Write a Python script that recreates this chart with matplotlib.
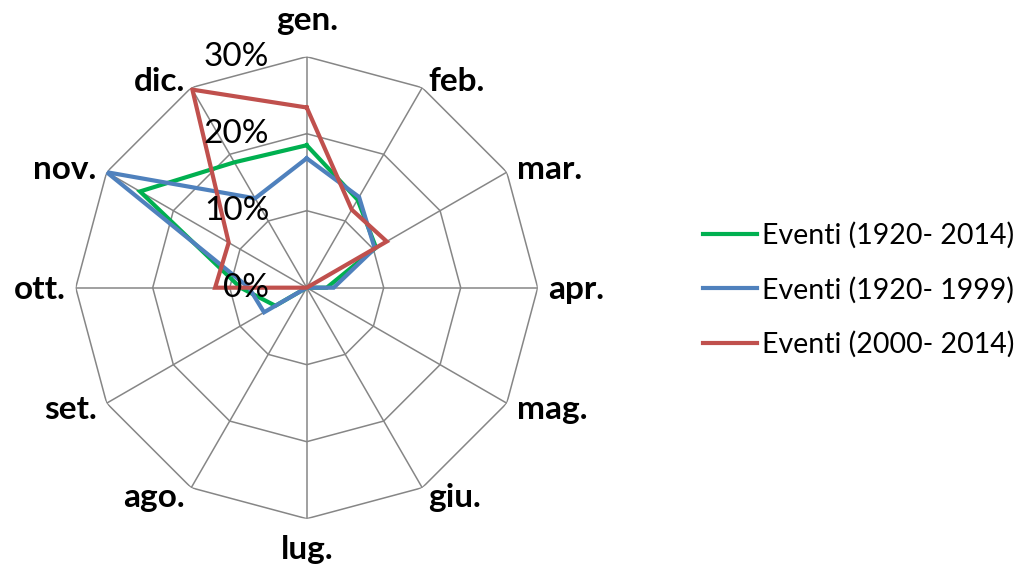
import numpy as np
import matplotlib
matplotlib.use("Agg")
import matplotlib.pyplot as plt

plt.rcParams['font.family'] = ['Lato', 'DejaVu Sans']

# months (clockwise from top)
months = ["gen.", "feb.", "mar.", "apr.", "mag.", "giu.",
          "lug.", "ago.", "set.", "ott.", "nov.", "dic."]

# share of events per month (%)
ev_1920_2014 = [18.5, 13.2, 10.4, 2.6, 0, 0, 0, 0, 4.7, 8.6, 25.0, 18.8]
ev_1920_1999 = [16.8, 13.6, 10.2, 3.5, 0, 0, 0, 0, 6.4, 7.5, 30.0, 13.4]
ev_2000_2014 = [23.4, 11.7, 12.0, 0, 0, 0, 0, 0, 0, 11.9, 11.7, 29.7]

series = [ev_1920_2014, ev_1920_1999, ev_2000_2014]
labels = ["Eventi (1920- 2014)", "Eventi (1920- 1999)", "Eventi (2000- 2014)"]
colors = ["#00B050", "#4F81BD", "#C0504D"]

rings = [10, 20, 30]
ring_labels = ["0%", "10%", "20%", "30%"]

n = len(months)
theta = np.arange(n) * 2 * np.pi / n
theta_c = np.append(theta, theta[0])

fig = plt.figure(figsize=(10.19, 5.72), dpi=100)
ax = fig.add_axes([0.0743, 0.0932, 0.4534, 0.8077], projection="polar")
ax.set_theta_zero_location("N")
ax.set_theta_direction(-1)
ax.set_ylim(0, 30)
ax.grid(False)
ax.spines["polar"].set_visible(False)
ax.set_xticks([])
ax.set_yticks([])

# polygon grid
grid_col = "#868686"
for r in rings:
    ax.plot(theta_c, [r] * (n + 1), color=grid_col, lw=1.1, zorder=1)
for t in theta:
    ax.plot([t, t], [0, 30], color=grid_col, lw=1.1, zorder=1)

for vals, lab, col in zip(series, labels, colors):
    v = np.append(vals, vals[0])
    ax.plot(theta_c, v, color=col, lw=3.0, label=lab, zorder=3,
            solid_joinstyle="miter")

# month labels (offsets in pixels, baseline-anchored)
px = 72 / 100
for t, m in zip(theta, months):
    s, c = np.sin(t), np.cos(t)
    if abs(s) > 0.1:
        ha = "left" if s > 0 else "right"
        dx = (6 if abs(s) < 0.6 else 10) * np.sign(s)
        dy = 11 - 9 * c
    else:
        ha = "center"
        dx = 0
        dy = -27 if c > 0 else 40
    ax.annotate(m, xy=(t, 30), xytext=(dx * px, -dy * px), textcoords="offset points",
                ha=ha, va="baseline", fontsize=24, fontweight="bold",
                annotation_clip=False)

# radial labels
for i, rl in enumerate(ring_labels):
    ax.annotate(rl, xy=(0, i * 10), xytext=(-27, 0), textcoords="offset points",
                ha="right", va="center", fontsize=24, annotation_clip=False)

fig.legend(loc="center left", bbox_to_anchor=(0.665, 0.493), frameon=False,
           fontsize=20.5, handlelength=1.9, handletextpad=0.18, labelspacing=0.96)

fig.savefig("out.png", dpi=100)
